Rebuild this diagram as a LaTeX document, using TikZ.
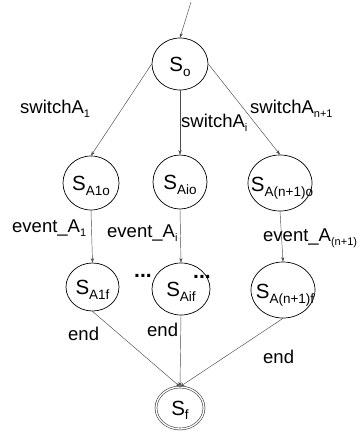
\documentclass[tikz,border=0pt]{standalone}
\usepackage{fontspec}
\setmainfont{Liberation Sans}
\usetikzlibrary{shapes.geometric,arrows.meta}
\newcommand{\stname}[1]{\fontsize{20.5}{20.5}\selectfont S\raisebox{-4.5pt}{\fontsize{13.5}{13.5}\selectfont #1}}
\newcommand{\lbltxt}[2]{\fontsize{18.5}{18.5}\selectfont #1\raisebox{-4.5pt}{\fontsize{11}{11}\selectfont #2}}
\begin{document}
\begin{tikzpicture}[x=1pt,y=-1pt,
  state/.style={ellipse,draw=black,line width=0.7pt,inner sep=0pt},
  fstate/.style={ellipse,draw=black!75,line width=0.6pt,double,double distance=1.3pt,inner sep=0pt},
  stxt/.style={anchor=base,inner sep=0pt},
  lbl/.style={anchor=base west,inner sep=0pt},
  conn/.style={draw=black!70,line width=0.45pt,-{Stealth[length=4.5pt,width=3.2pt]}}]
\useasboundingbox (0,0) rectangle (360,432);
\node[state,minimum width=56pt,minimum height=52pt] (So) at (180,64) {};
\node[state,minimum width=56pt,minimum height=54pt] (SA1o) at (91,183) {};
\node[state,minimum width=54pt,minimum height=54pt] (SAio) at (180,182) {};
\node[state,minimum width=64pt,minimum height=56pt] (SAno) at (280,183) {};
\node[state,minimum width=53pt,minimum height=48pt] (SA1f) at (92.5,287) {};
\node[state,minimum width=58pt,minimum height=52pt] (SAif) at (181,289) {};
\node[state,minimum width=64pt,minimum height=56pt] (SAnf) at (283,290) {};
\node[fstate,minimum width=48pt,minimum height=42pt] (Sf) at (180,408) {};
\coordinate (start) at (191,2);
% state texts
\node[stxt] (tSo) at ([yshift=-7.5pt]So.center) {\stname{o}};
\node[stxt] (tSA1o) at ([yshift=-7.5pt]SA1o.center) {\stname{A1o}};
\node[stxt] (tSAio) at ([yshift=-7.5pt]SAio.center) {\stname{Aio}};
\node[stxt] (tSAno) at ([xshift=2pt,yshift=-8.5pt]SAno.center) {\stname{A(n+1)o}};
\node[stxt] (tSA1f) at ([yshift=-7.5pt]SA1f.center) {\stname{A1f}};
\node[stxt] (tSAif) at ([yshift=-7.5pt]SAif.center) {\stname{Aif}};
\node[stxt] (tSAnf) at ([xshift=2pt,yshift=-8.5pt]SAnf.center) {\stname{A(n+1)f}};
\node[stxt] (tSf) at ([yshift=-7pt]Sf.center) {\stname{f}};
% connectors
\draw[conn] (start) -- (So.north);
\draw[conn] (So.west) -- (SA1o.north);
\draw[conn] (So.south) -- (SAio.north);
\draw[conn] (So.east) -- (SAno.north);
\draw[conn] (SA1o.south) -- (SA1f.north);
\draw[conn] (SAio.south) -- (SAif.north);
\draw[conn] (SAno.south) -- (SAnf.north);
\draw[conn] (SA1f.south) -- (Sf.north);
\draw[conn] (SAif.south) -- (Sf.north);
\draw[conn] (SAnf.south) -- (Sf.north);
% labels
\node[lbl] (l1) at (20,113) {\lbltxt{switchA}{1}};
\node[lbl] (l2) at (181,127) {\lbltxt{switchA}{i}};
\node[lbl] (l3) at (250,113) {\lbltxt{switchA}{n+1}};
\node[lbl] (e1) at (12,232) {\lbltxt{event\_A}{1}};
\node[lbl] (e2) at (107,237) {\lbltxt{event\_A}{i}};
\node[lbl] (e3) at (263,241) {\lbltxt{event\_A}{(n+1)}};
\node[lbl] (d1) at (134,277) {\fontsize{21}{21}\selectfont\bfseries ...};
\node[lbl] (d2) at (193,278) {\fontsize{21}{21}\selectfont\bfseries ...};
\node[lbl] (n1) at (68,340) {\lbltxt{end}{}};
\node[lbl] (n2) at (147,336) {\lbltxt{end}{}};
\node[lbl] (n3) at (263,363) {\lbltxt{end}{}};
\end{tikzpicture}
\end{document}
